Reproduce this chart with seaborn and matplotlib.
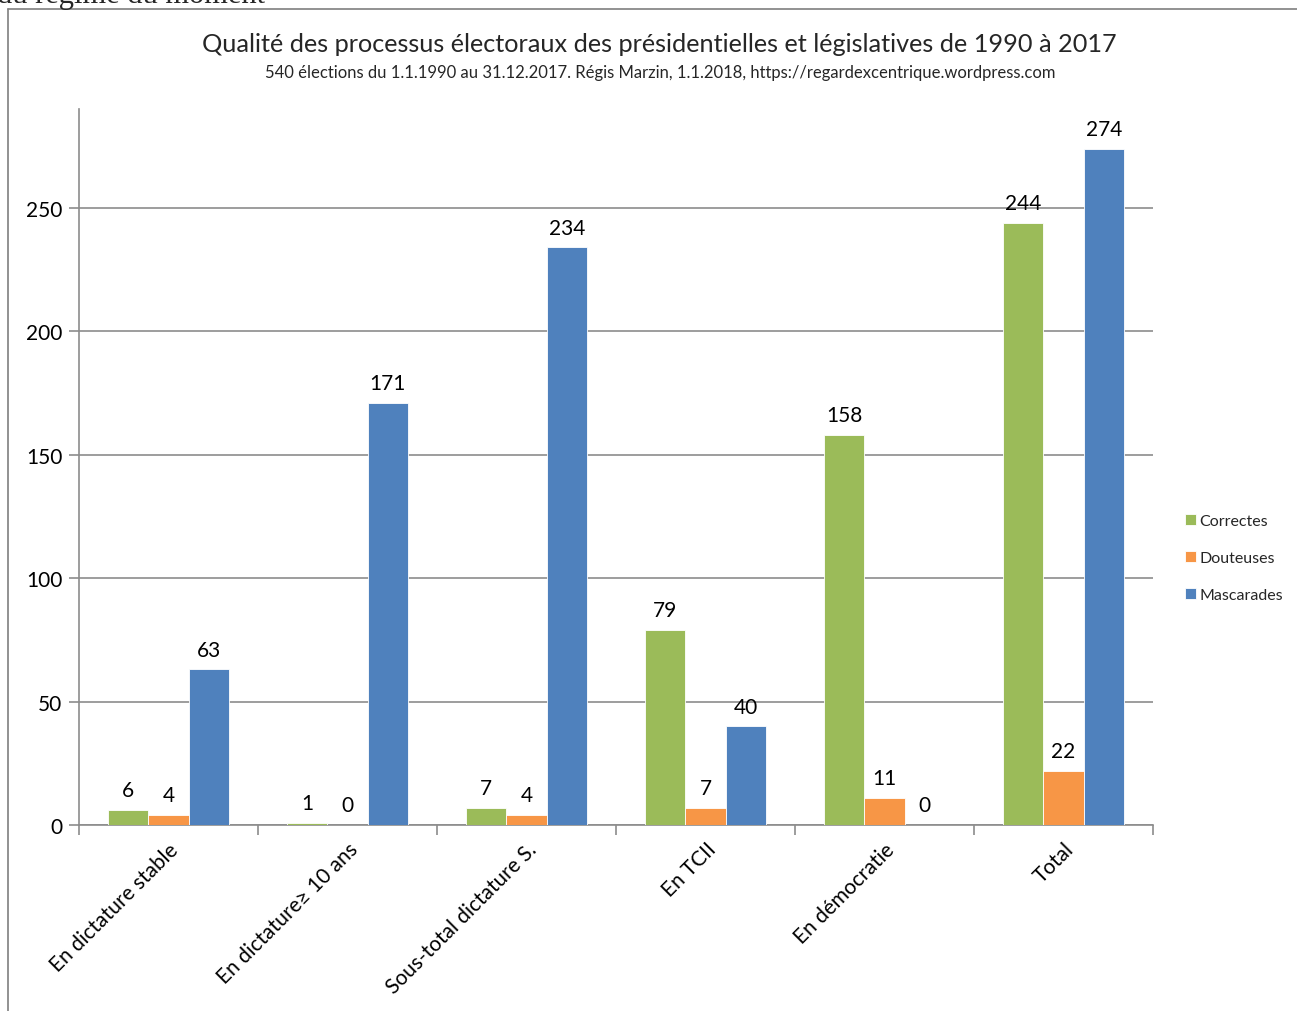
import matplotlib
matplotlib.use("Agg")
import matplotlib.pyplot as plt
from matplotlib.lines import Line2D
import seaborn as sns
import pandas as pd

categories = ["En dictature stable", "En dictature≥ 10 ans", "Sous-total dictature S.",
              "En TCII", "En démocratie", "Total"]
series_names = ["Correctes", "Douteuses", "Mascarades"]
correctes = [6, 1, 7, 79, 158, 244]
douteuses = [4, 0, 4, 7, 11, 22]
mascarades = [63, 171, 234, 40, 0, 274]
colors = ["#9BBB59", "#F79646", "#4F81BD"]

title = "Qualité des processus électoraux des présidentielles et législatives de 1990 à 2017"
subtitle = ("540 élections du 1.1.1990 au 31.12.2017. Régis Marzin, 1.1.2018, "
            "https://regardexcentrique.wordpress.com")

rows = []
for name, vals in zip(series_names, [correctes, douteuses, mascarades]):
    for cat, v in zip(categories, vals):
        rows.append({"cat": cat, "serie": name, "val": v})
df = pd.DataFrame(rows)

sns.set_theme(style="white")
plt.rcParams["font.family"] = ["Lato", "DejaVu Sans"]

W, H = 1297, 1012
fig = plt.figure(figsize=(W / 100, H / 100), dpi=100)
ax = fig.add_axes([79 / W, 1 - 826 / H, (1153 - 79) / W, (826 - 110) / H])

sns.barplot(data=df, x="cat", y="val", hue="serie", order=categories,
            hue_order=series_names, palette=colors, width=0.675, gap=0,
            saturation=1, ax=ax, edgecolor="white", linewidth=0.6, zorder=3)

ax.set_ylim(0, 290)
ax.set_xlim(-0.5, len(categories) - 0.5)
ax.set_xlabel("")
ax.set_ylabel("")

grid_c = "#8c8c8c"
ax.set_yticks([0, 50, 100, 150, 200, 250])
ax.yaxis.grid(True, color=grid_c, linewidth=1.2, zorder=0)
ax.set_axisbelow(True)
for s in ["top", "right"]:
    ax.spines[s].set_visible(False)
for s in ["left", "bottom"]:
    ax.spines[s].set_color(grid_c)
    ax.spines[s].set_linewidth(1.2)

ax.tick_params(axis="y", length=7, width=1.2, color=grid_c, labelsize=15,
               pad=5, left=True, labelcolor="black")
ax.set_xticks(range(len(categories)))
ax.set_xticks([i - 0.5 for i in range(len(categories) + 1)], minor=True)
ax.tick_params(axis="x", which="major", length=0, pad=10)
ax.tick_params(axis="x", which="minor", length=7, width=1.2, color=grid_c, bottom=True)
ax.set_xticklabels(categories, rotation=45, ha="right", rotation_mode="anchor",
                   fontsize=15, color="black")

for cont in ax.containers:
    ax.bar_label(cont, labels=[f"{int(v)}" for v in cont.datavalues],
                 padding=7, fontsize=15, color="black")

handles, labels = ax.get_legend_handles_labels()
ax.legend(handles, labels, loc="center left", bbox_to_anchor=(1.016, 0.373),
          frameon=False, fontsize=11.5, handlelength=0.7, handleheight=0.7,
          handletextpad=0.25, labelspacing=1.45)

fig.text(0.5085, 1 - 44 / H, title, ha="center", va="center", fontsize=18.2)
fig.text(0.509, 1 - 73 / H, subtitle, ha="center", va="center", fontsize=12)

# page frame and the line of text above it
fig.add_artist(Line2D([8 / W, 8 / W], [0, 1 - 10 / H], transform=fig.transFigure,
                      color="#7f7f7f", linewidth=1.2))
fig.add_artist(Line2D([8 / W, 1], [1 - 10 / H, 1 - 10 / H], transform=fig.transFigure,
                      color="#7f7f7f", linewidth=1.2))
fig.text(265 / W, 1 - 3 / H, "du régime du moment", ha="right", va="baseline",
         fontsize=22, family=["Liberation Serif"])

fig.savefig("out.png", dpi=100, facecolor="white")
